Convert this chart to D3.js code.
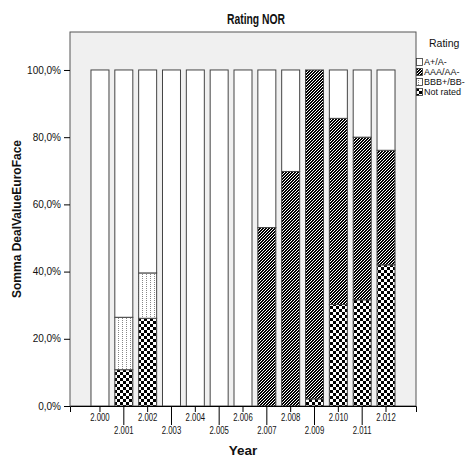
<!DOCTYPE html>
<html>
<head>
<meta charset="utf-8">
<script src="https://cdn.jsdelivr.net/npm/d3@7"></script>
<style>
  html, body { margin: 0; padding: 0; background: #fff; }
  svg { display: block; font-family: "Liberation Sans", Arial, sans-serif; }
</style>
</head>
<body>
<svg id="chart" width="471" height="460"></svg>
<script>
// Years on the category axis
const years = ['2.000','2.001','2.002','2.003','2.004','2.005','2.006','2.007','2.008','2.009','2.010','2.011','2.012'];
// Share of deal value (%) per rating class
const notRated = [0, 10.8, 26.1, 0, 0, 0, 0, 0, 0, 2.1, 30.2, 31.6, 42.0];
const bbb      = [0, 15.6, 13.5, 0, 0, 0, 0, 0, 0, 0, 0, 0, 0];
const aaa      = [0, 0, 0, 0, 0, 0, 0, 53.1, 69.8, 97.9, 55.4, 48.4, 34.1];
const aPlus    = [100, 73.6, 60.4, 100, 100, 100, 100, 46.9, 30.2, 0, 14.4, 20.0, 23.9];
const yTicks   = [0, 20, 40, 60, 80, 100];
const legendLabels = ['A+/A-', 'AAA/AA-', 'BBB+/BB-', 'Not rated'];

const rows = years.map((yr, i) => ({year: yr, nr: notRated[i], bbb: bbb[i], aaa: aaa[i], a: aPlus[i]}));
const keys = ['nr', 'bbb', 'aaa', 'a'];          // stacking order, bottom to top
const fillFor = {a: '#ffffff', aaa: 'url(#stripes)', bbb: 'url(#dots)', nr: 'url(#checks)'};

const svg = d3.select('#chart');
const plotL = 70, plotR = 416, plotT = 32, plotB = 406;

// fill patterns (pixel-aligned)
const defs = svg.append('defs');
const stripes = defs.append('pattern').attr('id', 'stripes').attr('patternUnits', 'userSpaceOnUse')
  .attr('width', 3).attr('height', 3).attr('shape-rendering', 'crispEdges');
stripes.append('rect').attr('width', 3).attr('height', 3).attr('fill', '#fff');
// "/" staircase, two dark pixels per row
[[1, 0], [2, 0], [0, 1], [1, 1], [2, 2], [0, 2]].forEach(([px, py]) =>
  stripes.append('rect').attr('x', px).attr('y', py).attr('width', 1).attr('height', 1).attr('fill', '#000'));

const dots = defs.append('pattern').attr('id', 'dots').attr('patternUnits', 'userSpaceOnUse')
  .attr('width', 4).attr('height', 2).attr('shape-rendering', 'crispEdges');
dots.append('rect').attr('width', 4).attr('height', 2).attr('fill', '#fff');
dots.append('rect').attr('x', 2).attr('y', 0).attr('width', 1).attr('height', 1).attr('fill', '#888');

const checks = defs.append('pattern').attr('id', 'checks').attr('patternUnits', 'userSpaceOnUse')
  .attr('width', 6).attr('height', 6).attr('shape-rendering', 'crispEdges');
checks.append('rect').attr('width', 6).attr('height', 6).attr('fill', '#fff');
checks.append('rect').attr('width', 3).attr('height', 3).attr('fill', '#000');
checks.append('rect').attr('x', 3).attr('y', 3).attr('width', 3).attr('height', 3).attr('fill', '#000');

const x = d3.scaleBand().domain(years).range([plotL, plotR]).paddingInner(0.245).paddingOuter(0.88);
const y = d3.scaleLinear().domain([0, 111.3]).range([plotB, plotT]);

// plot frame
svg.append('rect').attr('x', plotL).attr('y', plotT).attr('width', plotR - plotL).attr('height', plotB - plotT)
  .attr('fill', '#f0f0f0').attr('stroke', '#555').attr('stroke-width', 1);

// stacked bars
const stacked = d3.stack().keys(keys)(rows);
const layer = svg.append('g').selectAll('g').data(stacked).join('g')
  .attr('fill', d => fillFor[d.key]);
layer.selectAll('rect').data(d => d.filter(p => p[1] - p[0] > 0)).join('rect')
  .attr('x', d => x(d.data.year))
  .attr('width', x.bandwidth())
  .attr('y', d => y(d[1]))
  .attr('height', d => y(d[0]) - y(d[1]))
  .attr('stroke', '#444').attr('stroke-width', 1);

// y axis
const yAxis = svg.append('g').attr('transform', `translate(${plotL},0)`)
  .call(d3.axisLeft(y).tickValues(yTicks).tickSize(6).tickPadding(3)
    .tickFormat(d => d.toFixed(1).replace('.', ',') + '%'));
yAxis.select('.domain').remove();
yAxis.selectAll('text').attr('font-size', 10).attr('fill', '#111').attr('font-family', null);

// x axis with staggered labels
const xAxis = svg.append('g').attr('transform', `translate(0,${plotB})`)
  .call(d3.axisBottom(x).tickSize(6).tickPadding(3));
xAxis.select('.domain').attr('stroke', '#000');
xAxis.selectAll('.tick').each(function(d, i) {
  const g = d3.select(this);
  const low = i % 2 === 1;
  g.select('line').attr('y2', low ? 19 : 6);
  g.select('text').attr('y', low ? 21 : 8).attr('font-size', 10.5).attr('fill', '#111')
    .attr('font-family', null).attr('transform', 'scale(0.74,1)');
});

// titles
svg.append('text').attr('x', 256).attr('y', 24).attr('text-anchor', 'middle')
  .attr('font-size', 14).attr('font-weight', 'bold').attr('fill', '#111')
  .attr('transform', 'translate(256,0) scale(0.74,1) translate(-256,0)')
  .text('Rating NOR');
svg.append('text').attr('x', 243).attr('y', 455).attr('text-anchor', 'middle')
  .attr('font-size', 13.5).attr('font-weight', 'bold').attr('fill', '#111')
  .text('Year');
svg.append('text').attr('transform', `translate(21,${(plotT + plotB) / 2}) rotate(-90)`)
  .attr('text-anchor', 'middle').attr('font-size', 12).attr('font-weight', 'bold').attr('fill', '#111')
  .text('Somma DealValueEuroFace');

// legend
const lg = svg.append('g').attr('transform', `translate(${plotR},0)`);
lg.append('text').attr('x', 13).attr('y', 47).attr('font-size', 10.5).attr('fill', '#111').text('Rating');
const legendFills = ['#ffffff', 'url(#stripes)', 'url(#dots)', 'url(#checks)'];
const item = lg.selectAll('g.item').data(legendLabels).join('g').attr('class', 'item')
  .attr('transform', (d, i) => `translate(0,${58 + i * 10})`);
item.append('rect').attr('x', 0.5).attr('y', 0.5).attr('width', 6).attr('height', 7)
  .attr('fill', (d, i) => legendFills[i]).attr('stroke', '#333').attr('stroke-width', 0.8);
item.append('text').attr('x', 8).attr('y', 7).attr('font-size', 9).attr('fill', '#111').text(d => d);
</script>
</body>
</html>
